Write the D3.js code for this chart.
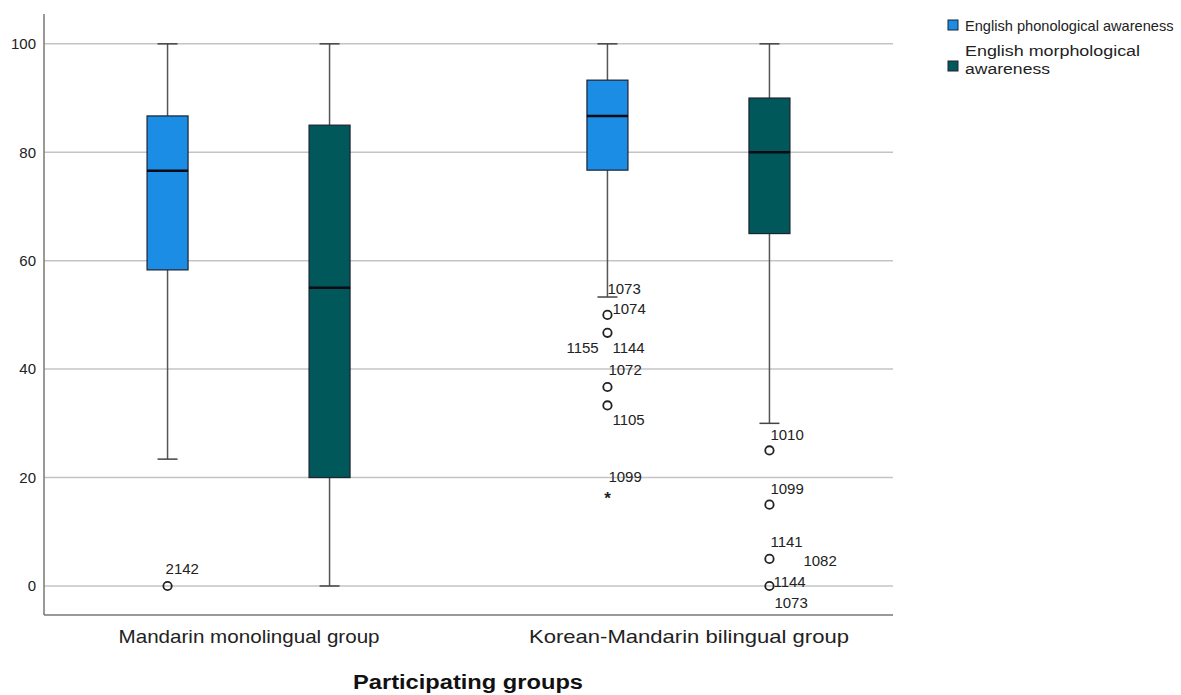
<!DOCTYPE html>
<html><head><meta charset="utf-8">
<script src="https://cdn.jsdelivr.net/npm/d3@7"></script>
<style>body{margin:0;background:#fff}svg{display:block;font-family:"Liberation Sans",Arial,sans-serif}</style>
</head><body>
<svg id="c" width="1181" height="695"></svg>
<script>
const groups = ["Mandarin monolingual group", "Korean-Mandarin bilingual group"];
const series = ["English phonological awareness", "English morphological awareness"];
const legendLines = [["English phonological awareness"], ["English morphological", "awareness"]];
const yTicks = [0, 20, 40, 60, 80, 100];
// [group, series, whiskerLow, q1, median, q3, whiskerHigh]
const boxStats = [
  [0, 0, 23.4, 58.3, 76.6, 86.7, 100],
  [0, 1, 0, 20, 55, 85, 100],
  [1, 0, 53.3, 76.7, 86.7, 93.3, 100],
  [1, 1, 30, 65, 80, 90, 100]
];
// [group, series, value, kind ("o" outlier, "*" extreme)]
const outlierPoints = [
  [0, 0, 0, "o"],
  [1, 0, 50, "o"], [1, 0, 46.7, "o"], [1, 0, 36.7, "o"], [1, 0, 33.3, "o"], [1, 0, 16.7, "*"],
  [1, 1, 25, "o"], [1, 1, 15, "o"], [1, 1, 5, "o"], [1, 1, 0, "o"]
];
// [group, series, value, case id]
const caseLabels = [
  [0, 0, 0, "2142"],
  [1, 0, 53.3, "1073"], [1, 0, 50, "1074"], [1, 0, 46.7, "1155"], [1, 0, 46.7, "1144"],
  [1, 0, 36.7, "1072"], [1, 0, 33.3, "1105"], [1, 0, 16.7, "1099"],
  [1, 1, 25, "1010"], [1, 1, 15, "1099"], [1, 1, 5, "1141"], [1, 1, 5, "1082"],
  [1, 1, 0, "1144"], [1, 1, 0, "1073"]
];
// label placement offsets (layout only): [dx, baseline dy]
const labelOffset = {
  "0-0-2142": [-2, -12], "1-0-1073": [0, -3], "1-0-1074": [5, -1], "1-0-1155": [-41, 20],
  "1-0-1144": [5, 20], "1-0-1072": [1, -12], "1-0-1105": [5, 20], "1-0-1099": [1, -13],
  "1-1-1010": [1, -10], "1-1-1099": [1, -11], "1-1-1141": [1, -12], "1-1-1082": [34, 7],
  "1-1-1144": [4, 1], "1-1-1073": [5, 22]
};
const colors = ["#1b8de4", "#00585b"];

const svg = d3.select("#c");
const L = 44, R = 893, T = 14, B = 615;
const y = d3.scaleLinear().domain([-5.35, 105.5]).range([B, T]);
const xg = d3.scalePoint().domain(d3.range(groups.length)).range([L, R]).padding(0.465);
const xs = d3.scalePoint().domain(d3.range(series.length)).range([-81, 81]);
const bw = 41;
const cx = (g, s) => xg(g) + xs(s);
function fit(sel, w) { sel.attr("textLength", w).attr("lengthAdjust", "spacingAndGlyphs"); }

// gridlines
svg.append("g").selectAll("line").data(yTicks).join("line")
  .attr("x1", L).attr("x2", R).attr("y1", d => y(d)).attr("y2", d => y(d))
  .attr("stroke", "#c4c4c4").attr("stroke-width", 1.5);

// axes
const yAxis = svg.append("g").attr("transform", `translate(${L},0)`)
  .call(d3.axisLeft(y).tickValues(yTicks).tickSize(0).tickPadding(8));
yAxis.select(".domain").remove();
yAxis.selectAll("text").attr("font-size", 15).attr("fill", "#222").attr("font-family", "Liberation Sans, Arial, sans-serif");
svg.append("line").attr("x1", L).attr("x2", L).attr("y1", T).attr("y2", B).attr("stroke", "#777").attr("stroke-width", 1.5);
svg.append("line").attr("x1", L).attr("x2", R).attr("y1", B).attr("y2", B).attr("stroke", "#777").attr("stroke-width", 1.5);

const catWidths = [261, 320];
const xAxis = svg.append("g").attr("transform", `translate(0,${B})`)
  .call(d3.axisBottom(xg).tickSize(0).tickPadding(15).tickFormat(i => groups[i]));
xAxis.select(".domain").remove();
xAxis.selectAll("text").attr("font-size", 19).attr("fill", "#222").attr("font-family", "Liberation Sans, Arial, sans-serif")
  .each(function(d) { fit(d3.select(this), catWidths[d]); });

svg.append("text").attr("x", 468).attr("y", 689).attr("text-anchor", "middle")
  .attr("font-size", 20).attr("font-weight", "bold").attr("fill", "#111").text("Participating groups")
  .call(s => fit(s, 230));

// boxes
const bx = svg.append("g");
boxStats.forEach(([g, s, lo, q1, md, q3, hi]) => {
  const c = cx(g, s);
  bx.append("line").attr("x1", c).attr("x2", c).attr("y1", y(hi)).attr("y2", y(q3)).attr("stroke", "#555").attr("stroke-width", 1.5);
  bx.append("line").attr("x1", c).attr("x2", c).attr("y1", y(q1)).attr("y2", y(lo)).attr("stroke", "#555").attr("stroke-width", 1.5);
  [hi, lo].forEach(v => bx.append("line").attr("x1", c - 10).attr("x2", c + 10).attr("y1", y(v)).attr("y2", y(v)).attr("stroke", "#444").attr("stroke-width", 1.5));
  bx.append("rect").attr("x", c - bw / 2).attr("y", y(q3)).attr("width", bw).attr("height", y(q1) - y(q3))
    .attr("fill", colors[s]).attr("stroke", "#1c2230").attr("stroke-width", 1.2);
  bx.append("line").attr("x1", c - bw / 2).attr("x2", c + bw / 2).attr("y1", y(md)).attr("y2", y(md)).attr("stroke", "#050a14").attr("stroke-width", 2.6);
});

// outliers
const og = svg.append("g");
outlierPoints.forEach(([g, s, v, k]) => {
  const c = cx(g, s);
  if (k === "o") {
    og.append("circle").attr("cx", c).attr("cy", y(v)).attr("r", 4.2).attr("fill", "none").attr("stroke", "#222").attr("stroke-width", 1.8);
  } else {
    og.append("text").attr("x", c).attr("y", y(v) + 9).attr("text-anchor", "middle").attr("font-size", 17).attr("font-weight", "bold").attr("fill", "#222").text("*");
  }
});
caseLabels.forEach(([g, s, v, id]) => {
  const off = labelOffset[`${g}-${s}-${id}`] || [4, -6];
  og.append("text").attr("x", cx(g, s) + off[0]).attr("y", y(v) + off[1])
    .attr("font-size", 15).attr("fill", "#222").text(id);
});

// legend
const lg = svg.append("g");
const sqY = [20, 61];
const lineBase = [[31], [56, 74]];
const lineSize = [[14.6], [15.5, 15.5]];
const lineW = [[null], [175, 85]];
legendLines.forEach((lines, i) => {
  lg.append("rect").attr("x", 948).attr("y", sqY[i]).attr("width", 10).attr("height", 10)
    .attr("fill", colors[i]).attr("stroke", "#1c2230").attr("stroke-width", 1);
  lines.forEach((t, j) => {
    const tx = lg.append("text").attr("x", 965).attr("y", lineBase[i][j]).attr("font-size", lineSize[i][j]).attr("fill", "#222").text(t);
    if (lineW[i][j]) fit(tx, lineW[i][j]);
  });
});
</script>
</body></html>
